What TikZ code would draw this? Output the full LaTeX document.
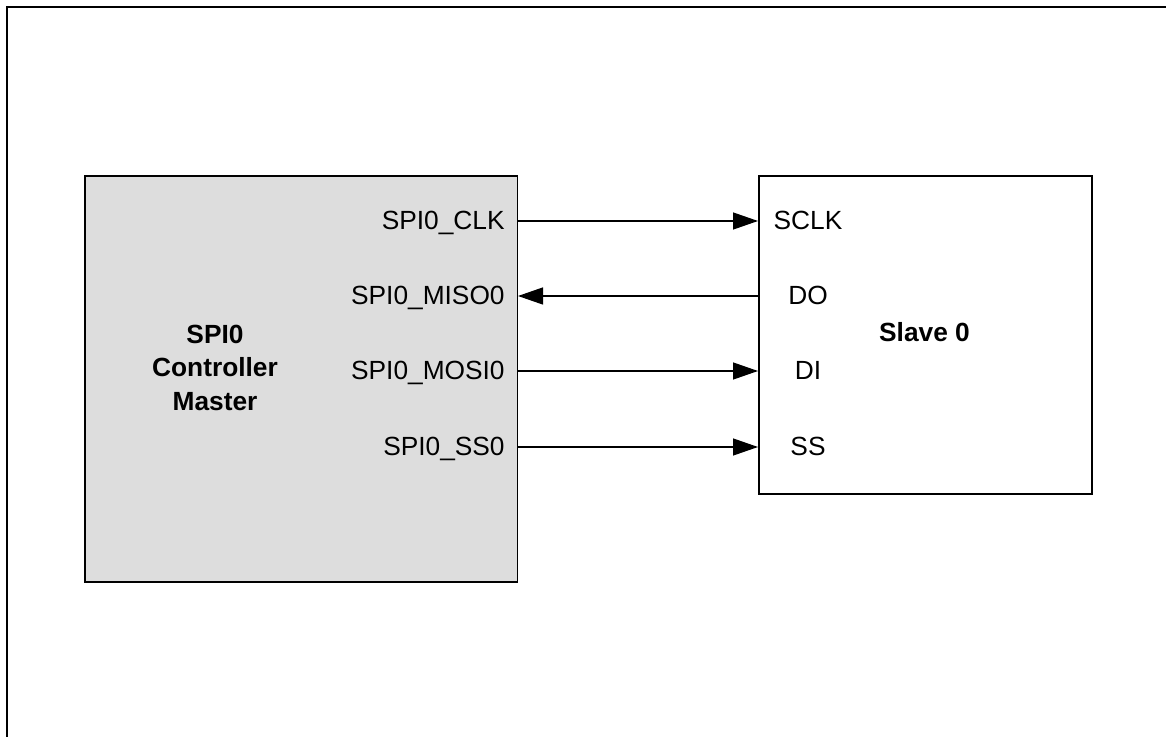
\documentclass[tikz,border=0pt]{standalone}
\usepackage{fontspec}
\setmainfont{Liberation Sans}
\definecolor{mastergray}{RGB}{221, 221, 221}
\usetikzlibrary{arrows.meta,positioning}

\begin{document}
\begin{tikzpicture}[
    x=0.5pt, y=-0.5pt,
    block/.style={draw=black, line width=0.75pt, inner sep=0pt, anchor=north west},
    sig/.style={font=\fontsize{13.15}{16}\selectfont, inner sep=0pt},
    title/.style={font=\fontsize{13.15}{16.75}\selectfont\bfseries, align=center, inner sep=0pt},
    arr/.style={-{Triangle[length=12.5pt, width=8.5pt]}, line width=0.65pt}
  ]
    \useasboundingbox (0,0) rectangle (1166,737);
    \draw[line width=1.25pt] (7,737) -- (7,7) -- (1166,7);

    \node[block, fill=mastergray, minimum width=216.25pt, minimum height=202.75pt] (master) at (84,175.5) {};
    \node[block, fill=white, minimum width=166.5pt, minimum height=158.75pt] (slave) at (758,175.5) {};

    \node[title] (mastertxt) at (215,367.5) {SPI0\\Controller\\Master};
    \node[title] (slavetxt) at (924.5,332.5) {Slave 0};

    \coordinate (clk) at (0,221);
    \coordinate (miso) at (0,296);
    \coordinate (mosi) at (0,371);
    \coordinate (ss) at (0,447);

    \node[sig, anchor=base east] (mclk) at (505,229.5) {SPI0\_CLK};
    \node[sig, anchor=base east] (mmiso) at (505,304.5) {SPI0\_MISO0};
    \node[sig, anchor=base east] (mmosi) at (505,379.5) {SPI0\_MOSI0};
    \node[sig, anchor=base east] (mss) at (505,455.5) {SPI0\_SS0};

    \node[sig, anchor=base] (sclk) at (808,229.5) {SCLK};
    \node[sig, anchor=base] (sdo) at (808,304.5) {DO};
    \node[sig, anchor=base] (sdi) at (808,379.5) {DI};
    \node[sig, anchor=base] (sss) at (808,455.5) {SS};

    \draw[arr] (master.east |- clk) -- (slave.west |- clk);
    \draw[arr] (slave.west |- miso) -- (master.east |- miso);
    \draw[arr] (master.east |- mosi) -- (slave.west |- mosi);
    \draw[arr] (master.east |- ss) -- (slave.west |- ss);
  \end{tikzpicture}
\end{document}
